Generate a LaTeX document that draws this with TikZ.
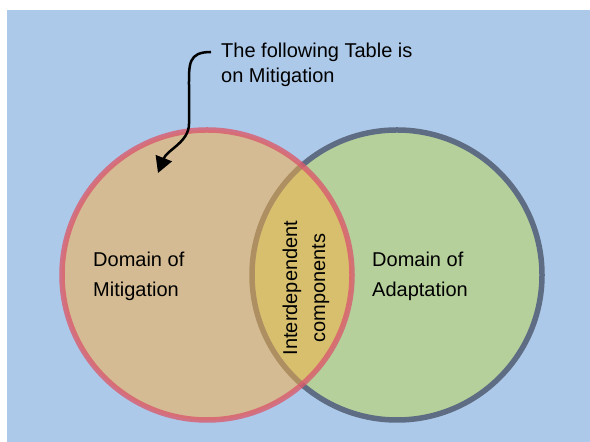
\documentclass[tikz,border=0pt]{standalone}
\usepackage{fontspec}
\setmainfont{Liberation Sans}
\usepackage{xcolor}
\usetikzlibrary{arrows.meta}
\definecolor{skyback}{HTML}{ADC9E9}
\definecolor{mitfill}{RGB}{248,176,69}
\definecolor{mitline}{RGB}{217,91,110}
\definecolor{adafill}{HTML}{B5D09B}
\definecolor{adaline}{HTML}{5E6D83}
\tikzset{
  venn/.style={circle, minimum size=290bp, inner sep=0pt, line width=5.5bp},
  domtext/.style={align=left, inner sep=0pt, anchor=north west, font=\fontsize{20bp}{30bp}\selectfont},
  overlap/.style={align=center, inner sep=0pt, rotate=90, font=\fontsize{20bp}{28bp}\selectfont},
  note/.style={align=left, inner sep=0pt, anchor=north west, font=\fontsize{20bp}{25bp}\selectfont},
  pointer/.style={-{Triangle[length=16bp, width=17bp]}, line width=2.5bp, black}
}
\begin{document}
\begin{tikzpicture}[x=1bp, y=1bp]
  \useasboundingbox (0,0) rectangle (590,442);
  \fill[skyback] (7,0) rectangle (590,432);
  \node[venn, fill=adafill, draw=adaline] (ada) at (397,167) {};
  \node[venn, fill=mitfill, fill opacity=0.52, draw=mitline, draw opacity=0.8] (mit) at (207,167) {};
  \node[domtext] (mittext) at (93,190) {Domain of\\Mitigation};
  \node[domtext] (adatext) at (372,190) {Domain of\\Adaptation};
  \node[overlap] (both) at (306,154) {Interdependent\\components};
  \node[note] (table) at (221,399) {The following Table is\\on Mitigation};
  \coordinate (tip) at (158,269);
  \draw[pointer] ([shift={(-10bp,-9bp)}]table.north west)
    .. controls (188,390) and (189,378) .. (189,355) -- (189,318)
    .. controls (189,300) and (167,292) .. (tip);
\end{tikzpicture}
\end{document}
